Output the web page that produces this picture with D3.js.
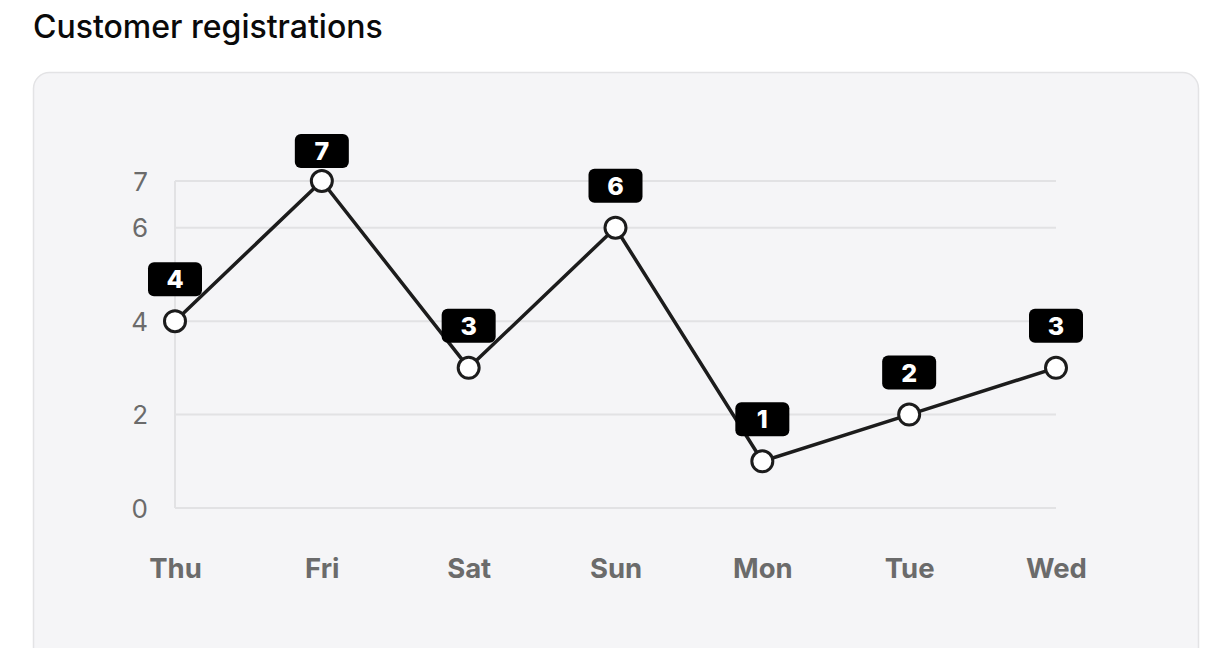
<!DOCTYPE html>
<html>
<head>
<meta charset="utf-8">
<script src="https://cdn.jsdelivr.net/npm/d3@7"></script>
<style>
  html, body { margin: 0; padding: 0; background: #fff; }
  svg { display: block; }
</style>
</head>
<body>
<svg id="chart" width="1232" height="648"></svg>
<script>
const title = "Customer registrations";
const categories = ["Thu", "Fri", "Sat", "Sun", "Mon", "Tue", "Wed"];
const registrations = [4, 7, 3, 6, 1, 2, 3];
const yTicks = [0, 2, 4, 6, 7];

const svg = d3.select("#chart");
const font = "Inter, 'Noto Sans', 'DejaVu Sans', sans-serif";

svg.append("text")
  .attr("x", 33).attr("y", 38)
  .attr("font-family", font).attr("font-size", 32).attr("font-weight", 500)
  .attr("fill", "#0a0a0a").text(title);

svg.append("rect")
  .attr("x", 33.5).attr("y", 72.5).attr("width", 1165).attr("height", 640)
  .attr("rx", 16).attr("fill", "#f5f5f7").attr("stroke", "#e3e3e5").attr("stroke-width", 1.5);

const x = d3.scalePoint().domain(categories).range([175, 1056]);
const y = d3.scaleLinear().domain([0, 7]).range([508, 181]);

const g = svg.append("g");

// gridlines
g.selectAll("line.grid").data(yTicks).join("line")
  .attr("class", "grid")
  .attr("x1", 175).attr("x2", 1056)
  .attr("y1", d => y(d)).attr("y2", d => y(d))
  .attr("stroke", "#e2e2e4").attr("stroke-width", 2);

// y axis line
g.append("line")
  .attr("x1", 175).attr("x2", 175).attr("y1", y(7)).attr("y2", y(0))
  .attr("stroke", "#e2e2e4").attr("stroke-width", 2);

// y tick labels
const yAxis = d3.axisLeft(y).tickValues(yTicks).tickSize(0).tickPadding(0).tickFormat(d3.format("d"));
const ya = g.append("g").attr("transform", "translate(148,0)").call(yAxis);
ya.select(".domain").remove();
ya.selectAll("text")
  .attr("font-family", font).attr("font-size", 26).attr("fill", "#6b6b6b")
  .attr("dy", "0.35em");

// x labels
const xAxis = d3.axisBottom(x).tickSize(0).tickPadding(0);
const xa = g.append("g").attr("transform", "translate(0,568)").call(xAxis);
xa.select(".domain").remove();
xa.selectAll("text")
  .attr("font-family", font).attr("font-size", 27.5).attr("font-weight", 700)
  .attr("fill", "#6b6b6b").attr("dy", "0.35em");

const data = categories.map((c, i) => ({ c, v: registrations[i] }));

// line
g.append("path")
  .datum(data)
  .attr("d", d3.line().x(d => x(d.c)).y(d => y(d.v)))
  .attr("fill", "none").attr("stroke", "#1c1c1c").attr("stroke-width", 3.5)
  .attr("stroke-linejoin", "round");

// labels
const boxW = 54, boxH = 34;
const lbl = g.selectAll("g.lbl").data(data).join("g").attr("class", "lbl")
  .attr("transform", d => {
    const top = Math.max(y(d.v) - 59, 134);
    return `translate(${x(d.c)},${top})`;
  });
lbl.append("rect")
  .attr("x", -boxW / 2).attr("y", 0).attr("width", boxW).attr("height", boxH)
  .attr("rx", 6).attr("fill", "#000");
lbl.append("text")
  .attr("x", 0).attr("y", boxH / 2).attr("dy", "0.36em")
  .attr("text-anchor", "middle")
  .attr("font-family", font).attr("font-size", 25).attr("font-weight", 800)
  .attr("fill", "#fff").text(d => d.v);

// points
g.selectAll("circle.pt").data(data).join("circle")
  .attr("class", "pt")
  .attr("cx", d => x(d.c)).attr("cy", d => y(d.v)).attr("r", 10.5)
  .attr("fill", "#fff").attr("stroke", "#1c1c1c").attr("stroke-width", 3);
</script>
</body>
</html>
